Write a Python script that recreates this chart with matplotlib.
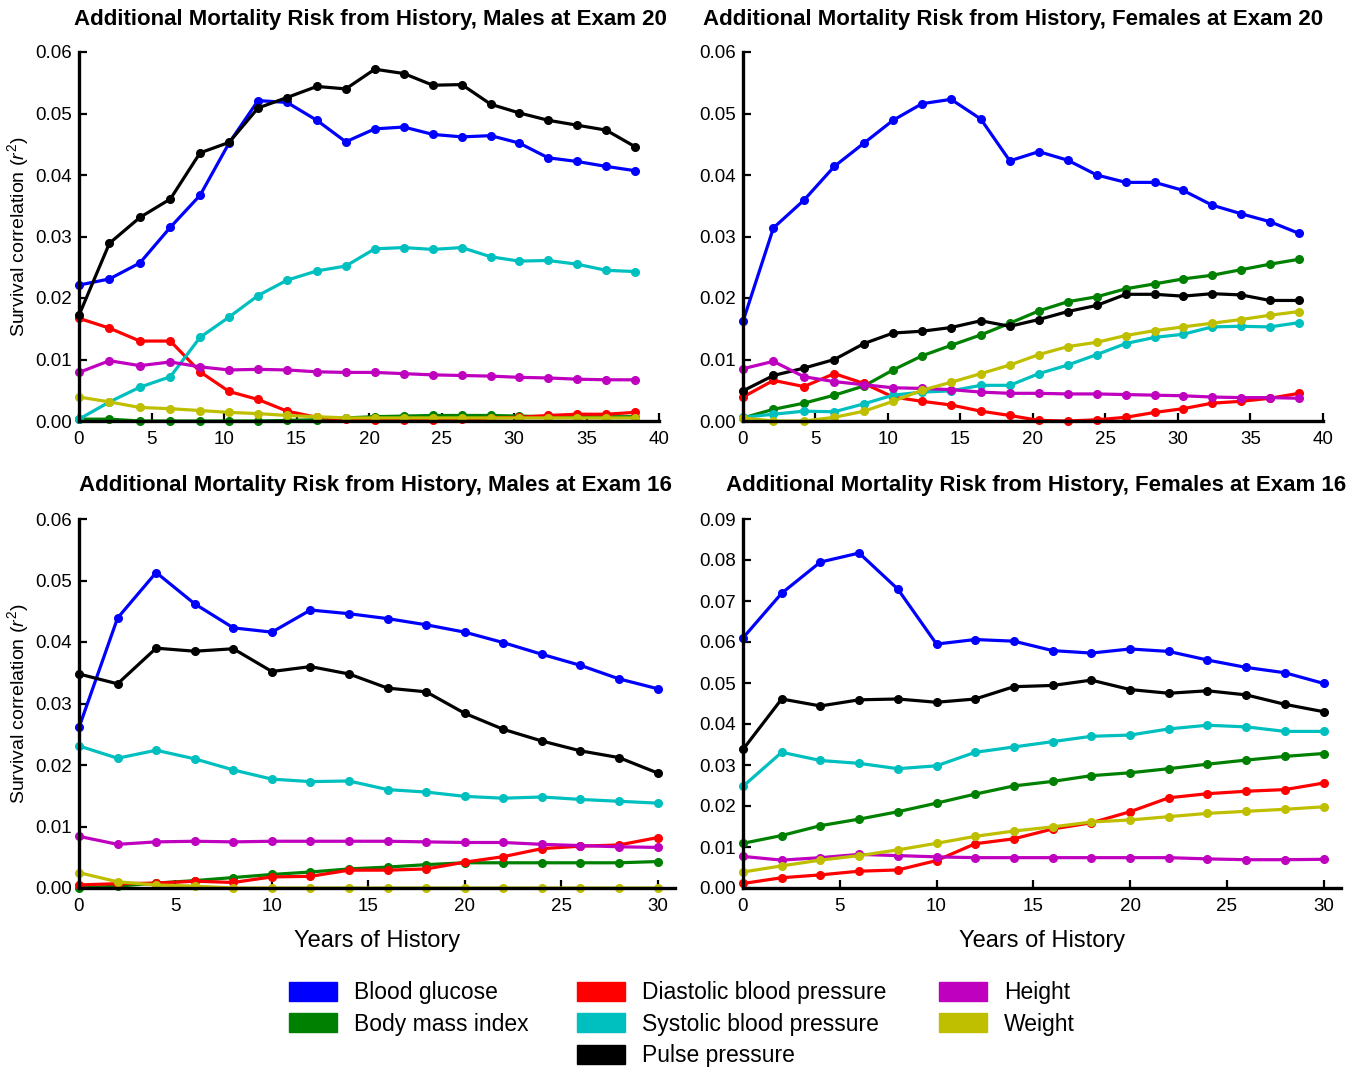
import matplotlib
matplotlib.use('Agg')
import matplotlib.pyplot as plt
from matplotlib.patches import Patch
import numpy as np

plt.rcParams['font.family'] = ['Liberation Sans', 'DejaVu Sans']
plt.rcParams['mathtext.fontset'] = 'custom'
plt.rcParams['mathtext.rm'] = 'Liberation Sans'
plt.rcParams['mathtext.it'] = 'Liberation Sans:italic'

# x positions (years of history)
x_exam20 = [0, 2.1, 4.2, 6.3, 8.35, 10.35, 12.35, 14.35, 16.4, 18.4, 20.4,
            22.4, 24.4, 26.4, 28.4, 30.35, 32.35, 34.35, 36.35, 38.35]
x_exam16 = [0, 2, 4, 6, 8, 10, 12, 14, 16, 18, 20, 22, 24, 26, 28, 30]

names = ['Blood glucose', 'Body mass index', 'Diastolic blood pressure',
         'Systolic blood pressure', 'Pulse pressure', 'Height', 'Weight']
colors = ['#0000ff', '#008000', '#ff0000', '#00bfbf', '#000000', '#bf00bf', '#bfbf00']

# Males at exam 20
m20_glucose = [0.0221, 0.0231, 0.0257, 0.0315, 0.0367, 0.0452, 0.0521, 0.0518, 0.0489, 0.0454,
               0.0475, 0.0478, 0.0466, 0.0462, 0.0464, 0.0452, 0.0428, 0.0422, 0.0414, 0.0407]
m20_bmi = [0.0003, 0.0003, 0.0, 0.0, 0.0, 0.0, 0.0, 0.0001, 0.0002, 0.0005,
           0.0007, 0.0008, 0.0009, 0.0009, 0.0009, 0.0008, 0.0007, 0.0007, 0.0007, 0.0007]
m20_dbp = [0.0167, 0.0151, 0.0130, 0.0130, 0.0080, 0.0048, 0.0035, 0.0016, 0.0006, 0.0003,
           0.0002, 0.0002, 0.0002, 0.0003, 0.0005, 0.0006, 0.0009, 0.0011, 0.0011, 0.0014]
m20_sbp = [0.0003, 0.0031, 0.0055, 0.0072, 0.0136, 0.0169, 0.0204, 0.0229, 0.0244, 0.0252,
           0.0280, 0.0282, 0.0279, 0.0282, 0.0267, 0.0260, 0.0261, 0.0255, 0.0245, 0.0243]
m20_pp = [0.0172, 0.0289, 0.0331, 0.0361, 0.0436, 0.0453, 0.0509, 0.0526, 0.0544, 0.0540,
          0.0572, 0.0565, 0.0546, 0.0547, 0.0515, 0.0501, 0.0489, 0.0481, 0.0473, 0.0446]
m20_height = [0.0079, 0.0098, 0.0090, 0.0096, 0.0088, 0.0083, 0.0084, 0.0083, 0.0080, 0.0079,
              0.0079, 0.0077, 0.0075, 0.0074, 0.0073, 0.0071, 0.0070, 0.0068, 0.0067, 0.0067]
m20_weight = [0.0039, 0.0031, 0.0022, 0.0020, 0.0017, 0.0014, 0.0012, 0.0009, 0.0007, 0.0005,
              0.0005, 0.0005, 0.0005, 0.0005, 0.0005, 0.0005, 0.0005, 0.0005, 0.0005, 0.0005]

# Females at exam 20
f20_glucose = [0.0162, 0.0314, 0.0359, 0.0414, 0.0452, 0.0489, 0.0516, 0.0523, 0.0491, 0.0423,
               0.0438, 0.0424, 0.0400, 0.0388, 0.0388, 0.0375, 0.0351, 0.0337, 0.0324, 0.0305]
f20_bmi = [0.0005, 0.0019, 0.0029, 0.0042, 0.0057, 0.0083, 0.0106, 0.0123, 0.0140, 0.0159,
           0.0179, 0.0194, 0.0202, 0.0215, 0.0223, 0.0231, 0.0237, 0.0246, 0.0255, 0.0263]
f20_dbp = [0.0039, 0.0066, 0.0056, 0.0077, 0.0061, 0.0039, 0.0032, 0.0026, 0.0016, 0.0009,
           0.0001, 0.0, 0.0002, 0.0006, 0.0014, 0.0020, 0.0029, 0.0032, 0.0037, 0.0045]
f20_sbp = [0.0006, 0.0011, 0.0016, 0.0015, 0.0028, 0.0042, 0.0047, 0.0049, 0.0058, 0.0058,
           0.0077, 0.0091, 0.0108, 0.0126, 0.0136, 0.0141, 0.0153, 0.0154, 0.0153, 0.0160]
f20_pp = [0.0049, 0.0074, 0.0086, 0.0100, 0.0126, 0.0143, 0.0146, 0.0152, 0.0163, 0.0154,
          0.0165, 0.0178, 0.0188, 0.0206, 0.0206, 0.0203, 0.0207, 0.0205, 0.0196, 0.0196]
f20_height = [0.0085, 0.0097, 0.0072, 0.0064, 0.0059, 0.0054, 0.0053, 0.0051, 0.0047, 0.0045,
              0.0045, 0.0044, 0.0044, 0.0043, 0.0042, 0.0041, 0.0039, 0.0038, 0.0038, 0.0037]
f20_weight = [0.0005, 0.0, 0.0, 0.0006, 0.0016, 0.0032, 0.0050, 0.0063, 0.0077, 0.0091,
              0.0108, 0.0121, 0.0128, 0.0139, 0.0147, 0.0153, 0.0159, 0.0165, 0.0172, 0.0178]

# Males at exam 16
m16_glucose = [0.0261, 0.0439, 0.0513, 0.0462, 0.0423, 0.0416, 0.0452, 0.0446, 0.0438, 0.0428,
               0.0416, 0.0399, 0.0380, 0.0362, 0.0340, 0.0324]
m16_bmi = [0.0, 0.0003, 0.0008, 0.0012, 0.0017, 0.0022, 0.0026, 0.0031, 0.0034, 0.0038,
           0.0041, 0.0041, 0.0041, 0.0041, 0.0041, 0.0043]
m16_dbp = [0.0005, 0.0007, 0.0008, 0.0011, 0.0009, 0.0018, 0.0019, 0.0029, 0.0029, 0.0031,
           0.0042, 0.0051, 0.0064, 0.0068, 0.0070, 0.0082]
m16_sbp = [0.0231, 0.0211, 0.0224, 0.0210, 0.0192, 0.0177, 0.0173, 0.0174, 0.0160, 0.0156,
           0.0149, 0.0146, 0.0148, 0.0144, 0.0141, 0.0138]
m16_pp = [0.0348, 0.0332, 0.0390, 0.0385, 0.0389, 0.0352, 0.0360, 0.0348, 0.0325, 0.0319,
          0.0284, 0.0258, 0.0239, 0.0223, 0.0212, 0.0187]
m16_height = [0.0084, 0.0071, 0.0075, 0.0076, 0.0075, 0.0076, 0.0076, 0.0076, 0.0076, 0.0075,
              0.0074, 0.0074, 0.0071, 0.0069, 0.0067, 0.0066]
m16_weight = [0.0025, 0.0010, 0.0005, 0.0003, 0.0, 0.0, 0.0, 0.0, 0.0, 0.0,
              0.0, 0.0, 0.0, 0.0, 0.0, 0.0]

# Females at exam 16
f16_glucose = [0.0610, 0.0719, 0.0795, 0.0817, 0.0729, 0.0595, 0.0606, 0.0602, 0.0579, 0.0573,
               0.0583, 0.0577, 0.0556, 0.0538, 0.0525, 0.0499]
f16_bmi = [0.0109, 0.0128, 0.0152, 0.0168, 0.0186, 0.0207, 0.0229, 0.0249, 0.0260, 0.0274,
           0.0281, 0.0291, 0.0302, 0.0312, 0.0321, 0.0328]
f16_dbp = [0.0011, 0.0025, 0.0032, 0.0041, 0.0044, 0.0067, 0.0108, 0.0120, 0.0144, 0.0159,
           0.0186, 0.0220, 0.0230, 0.0236, 0.0240, 0.0256]
f16_sbp = [0.0248, 0.0331, 0.0311, 0.0304, 0.0291, 0.0298, 0.0331, 0.0344, 0.0357, 0.0370,
           0.0373, 0.0388, 0.0397, 0.0393, 0.0382, 0.0382]
f16_pp = [0.0338, 0.0461, 0.0444, 0.0459, 0.0461, 0.0453, 0.0461, 0.0491, 0.0494, 0.0507,
          0.0484, 0.0475, 0.0481, 0.0471, 0.0448, 0.0430]
f16_height = [0.0077, 0.0068, 0.0074, 0.0082, 0.0079, 0.0076, 0.0074, 0.0074, 0.0074, 0.0074,
              0.0074, 0.0074, 0.0071, 0.0069, 0.0069, 0.0070]
f16_weight = [0.0039, 0.0054, 0.0068, 0.0079, 0.0093, 0.0109, 0.0126, 0.0139, 0.0149, 0.0161,
              0.0166, 0.0174, 0.0182, 0.0187, 0.0192, 0.0198]

panels = [
    ('Additional Mortality Risk from History, Males at Exam 20', x_exam20,
     [m20_glucose, m20_bmi, m20_dbp, m20_sbp, m20_pp, m20_height, m20_weight]),
    ('Additional Mortality Risk from History, Females at Exam 20', x_exam20,
     [f20_glucose, f20_bmi, f20_dbp, f20_sbp, f20_pp, f20_height, f20_weight]),
    ('Additional Mortality Risk from History, Males at Exam 16', x_exam16,
     [m16_glucose, m16_bmi, m16_dbp, m16_sbp, m16_pp, m16_height, m16_weight]),
    ('Additional Mortality Risk from History, Females at Exam 16', x_exam16,
     [f16_glucose, f16_bmi, f16_dbp, f16_sbp, f16_pp, f16_height, f16_weight]),
]

W, H = 1365, 1067
fig = plt.figure(figsize=(W / 100, H / 100), dpi=100)

def px_axes(left, top, right, bottom):
    return fig.add_axes([left / W, 1 - bottom / H, (right - left) / W, (bottom - top) / H])

# axes boxes in pixels: left, top, right, bottom
boxes = [(79, 52, 659, 421), (743, 52, 1323, 421),
         (79, 519, 675, 888), (743, 519, 1341, 888)]
xlims = [(0, 40), (0, 40), (0, 30.9), (0, 30.9)]
xticks = [np.arange(0, 41, 5), np.arange(0, 41, 5), np.arange(0, 31, 5), np.arange(0, 31, 5)]
ylims = [0.06, 0.06, 0.06, 0.09]
title_pos = [(370, 19), (1013, 19), (375, 485), (1036, 485)]

for i, (title, xs, series) in enumerate(panels):
    ax = px_axes(*boxes[i])
    for ys, c in zip(series, colors):
        ax.plot(xs, ys, color=c, lw=2.3, marker='o', ms=5.5, clip_on=False, zorder=3)
    ax.set_xlim(*xlims[i])
    ax.set_ylim(0, ylims[i])
    ax.set_xticks(xticks[i])
    ax.set_yticks(np.arange(0, ylims[i] + 0.001, 0.01))
    ax.yaxis.set_major_formatter(matplotlib.ticker.FormatStrFormatter('%.2f'))
    for s in ['top', 'right']:
        ax.spines[s].set_visible(False)
    for s in ['left', 'bottom']:
        ax.spines[s].set_linewidth(2.4)
        ax.spines[s].set_zorder(4)
    ax.tick_params(direction='in', length=6, width=1.6, labelsize=13.5)
    ax.tick_params(axis='x', pad=7)
    ax.tick_params(axis='y', pad=5)
    fig.text(title_pos[i][0] / W, 1 - title_pos[i][1] / H, title, ha='center', va='center',
             fontsize=16, fontweight='bold')
    if i in (0, 2):
        ax.set_ylabel(r'Survival correlation ($r^2$)', fontsize=14, labelpad=3)
    if i in (2, 3):
        ax.set_xlabel('Years of History', fontsize=17, labelpad=11)

# legend in three columns
handles = [Patch(facecolor=c, edgecolor=c) for c in colors]
groups = [([0, 1], 289), ([2, 3, 4], 577), ([5, 6], 939)]
for idx, xpx in groups:
    fig.legend([handles[k] for k in idx], [names[k] for k in idx],
               loc='upper left', bbox_to_anchor=(xpx / W, 1 - 981 / H),
               frameon=False, borderpad=0, borderaxespad=0, fontsize=16.5,
               handlelength=2.1, handleheight=0.9, handletextpad=0.72,
               labelspacing=0.38)

fig.savefig('out.png', dpi=100)
